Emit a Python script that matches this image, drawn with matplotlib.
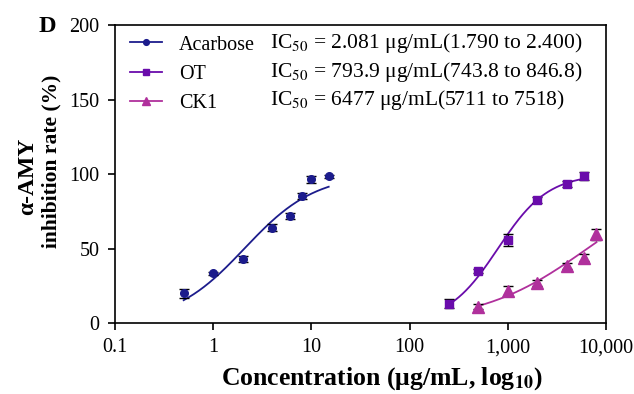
import matplotlib
matplotlib.use("Agg")
import matplotlib.pyplot as plt
import numpy as np
from matplotlib.ticker import FuncFormatter
from matplotlib.lines import Line2D

plt.rcParams['font.family'] = ['Liberation Serif', 'DejaVu Serif']
plt.rcParams['mathtext.fontset'] = 'stix'

# inhibition data (mean +/- error)
acarbose_x = [0.5, 1, 2, 4, 6, 8, 10, 15]
acarbose_y = [20.0, 33.5, 43.0, 64.0, 71.5, 85.0, 96.5, 98.6]
acarbose_err = [3.0, 1.0, 2.0, 2.5, 2.0, 2.0, 2.5, 1.0]

ot_x = [250, 500, 1000, 2000, 4000, 6000]
ot_y = [13.0, 35.0, 55.5, 82.5, 93.0, 98.8]
ot_err = [3.0, 1.5, 4.0, 2.0, 2.0, 2.5]

ck1_x = [500, 1000, 2000, 4000, 6000, 8000]
ck1_y = [11.0, 21.5, 26.8, 38.5, 43.8, 59.5]
ck1_err = [1.5, 3.0, 2.0, 2.0, 2.5, 3.5]

# fitted dose-response parameters (IC50, hill slope)
names = ['Acarbose', 'OT', 'CK1']
ic50 = [2.081, 793.9, 6477]
hill = [1.2, 1.7, 0.8]
ic50_text = [r'IC$_{50}$ = 2.081 μg/mL(1.790 to 2.400)',
             r'IC$_{50}$ = 793.9 μg/mL(743.8 to 846.8)',
             r'IC$_{50}$ = 6477 μg/mL(5711 to 7518)']

colors = ['#1c1c8c', '#6a0cab', '#b0309c']
markers = ['o', 's', '^']
msizes = [5.5, 6, 8]


def logistic(x, c50, h, bottom=0.0, top=100.0):
    return bottom + (top - bottom) / (1 + (c50 / x) ** h)


fig = plt.figure(figsize=(6.34, 3.94), dpi=100)
ax = fig.add_axes([0.1814, 0.1802, 0.7744, 0.7563])

series = [(acarbose_x, acarbose_y, acarbose_err),
          (ot_x, ot_y, ot_err),
          (ck1_x, ck1_y, ck1_err)]

handles = []
for i, (x, y, e) in enumerate(series):
    ax.errorbar(x, y, yerr=e, fmt='none', ecolor='black', elinewidth=1.0,
                capsize=3.5, capthick=1.0, zorder=3)
    ax.plot(x, y, linestyle='none', marker=markers[i], ms=msizes[i],
            color=colors[i], zorder=4)
    xf = np.logspace(np.log10(x[0]), np.log10(x[-1]), 200)
    ax.plot(xf, logistic(xf, ic50[i], hill[i]), color=colors[i], lw=1.3, zorder=2)
    handles.append(Line2D([], [], color=colors[i], lw=1.3, marker=markers[i],
                          ms=msizes[i] * 0.75))

ax.set_xscale('log')
ax.set_xlim(0.1, 10000)
ax.set_ylim(0, 200)
ax.set_xticks([0.1, 1, 10, 100, 1000, 10000])
ax.xaxis.set_major_formatter(FuncFormatter(
    lambda v, p: '0.1' if v < 1 else f'{int(round(v)):,}'))
ax.minorticks_off()
ax.set_yticks([0, 50, 100, 150, 200])

for s in ax.spines.values():
    s.set_linewidth(1.2)
ax.tick_params(direction='out', length=5, width=1.2, labelsize=14.5, pad=6)

ax.set_xlabel(r'Concentration (μg/mL, log$_{\mathbf{10}}$)', fontsize=18.5,
              fontweight='bold', labelpad=6, x=0.544)

# two-line y label, each line placed on its own
fig.text(28 / 634, 1 - 176.5 / 394, 'α-AMY', fontsize=17, fontweight='bold',
         rotation=90, ha='center', va='center')
fig.text(51 / 634, 1 - 161 / 394, 'inhibition rate (%)', fontsize=15.5,
         fontweight='bold', rotation=90, ha='center', va='center')

leg = ax.legend(handles, names, loc='upper left', bbox_to_anchor=(0.03, 0.965),
                frameon=False, fontsize=14.5, handlelength=1.6, handletextpad=0.85,
                labelspacing=0.5, borderpad=0, borderaxespad=0)

row_y = [0.9396, 0.842, 0.748]
for t, yy in zip(ic50_text, row_y):
    ax.text(0.3157, yy, t, transform=ax.transAxes, fontsize=15.5, va='center',
            ha='left')

fig.text(39 / 634, 1 - 27 / 394, 'D', fontsize=17.5, fontweight='bold', va='center')

fig.savefig('out.png', dpi=100)
